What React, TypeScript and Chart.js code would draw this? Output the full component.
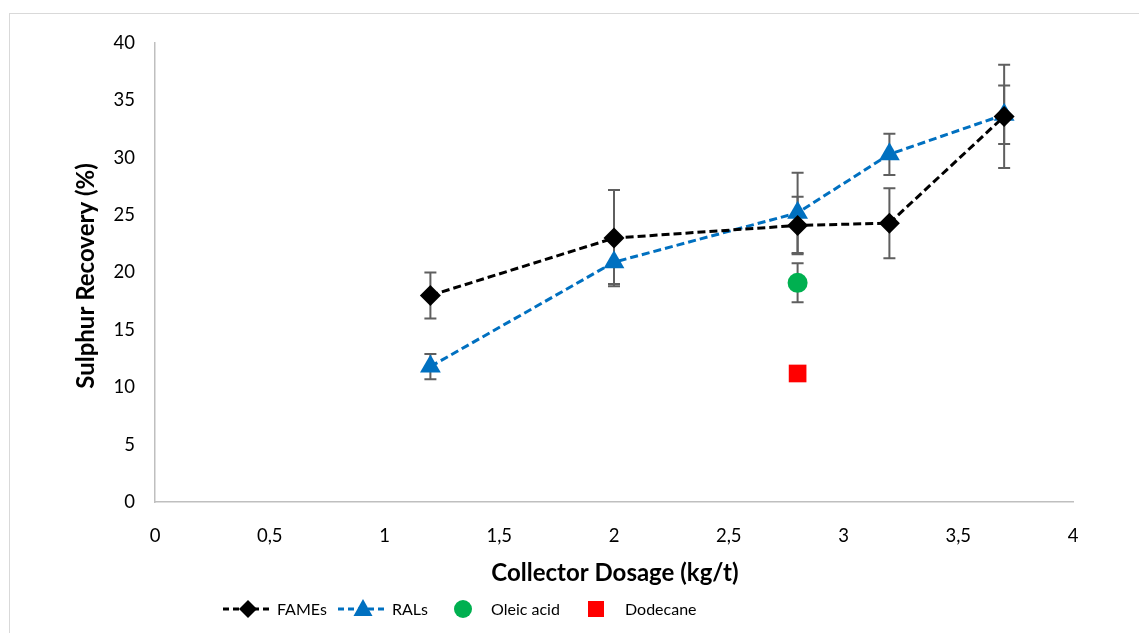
import React, { useEffect, useRef } from 'react';
import { Chart, registerables } from 'chart.js';

Chart.register(...registerables);

// ---- data ----
const dosage = [1.2, 2, 2.8, 3.2, 3.7];
const famesRecovery = [18.0, 23.0, 24.1, 24.3, 33.6];
const famesError = [2.0, 4.2, 2.5, 3.05, 4.5];
const ralsRecovery = [11.8, 20.9, 25.2, 30.3, 33.75];
const ralsError = [1.1, 1.9, 3.5, 1.8, 2.55];
const oleicDosage = [2.8];
const oleicRecovery = [19.1];
const oleicError = [1.7];
const dodecaneDosage = [2.8];
const dodecaneRecovery = [11.2];

const seriesNames = ['FAMEs', 'RALs', 'Oleic acid', 'Dodecane'];
const seriesColors = ['#000000', '#0070C0', '#00B050', '#FF0000'];
const errorSets = [famesError, ralsError, oleicError, null];

const xTitle = 'Collector Dosage (kg/t)';
const yTitle = 'Sulphur Recovery (%)';

const FONT = 'Lato, "Open Sans", sans-serif';

const toPts = (xs: number[], ys: number[]) => xs.map((x, i) => ({ x, y: ys[i] }));

const errorBarPlugin = {
  id: 'errorBars',
  beforeDatasetsDraw(chart: any) {
    const { ctx, scales } = chart;
    const xs = scales.x;
    const ys = scales.y;
    ctx.save();
    ctx.strokeStyle = '#5f5f5f';
    ctx.lineWidth = 2;
    chart.data.datasets.forEach((ds: any, di: number) => {
      const errs = errorSets[di];
      if (!errs) return;
      ds.data.forEach((p: any, i: number) => {
        const e = errs[i];
        if (!e) return;
        const px = xs.getPixelForValue(p.x);
        const top = ys.getPixelForValue(p.y + e);
        const bot = ys.getPixelForValue(p.y - e);
        ctx.beginPath();
        ctx.moveTo(px, top);
        ctx.lineTo(px, bot);
        ctx.moveTo(px - 6, top);
        ctx.lineTo(px + 6, top);
        ctx.moveTo(px - 6, bot);
        ctx.lineTo(px + 6, bot);
        ctx.stroke();
      });
    });
    ctx.restore();
  },
};

function drawMarker(ctx: CanvasRenderingContext2D, kind: string, x: number, y: number, color: string) {
  ctx.fillStyle = color;
  ctx.beginPath();
  if (kind === 'diamond') {
    ctx.moveTo(x, y - 9);
    ctx.lineTo(x + 9, y);
    ctx.lineTo(x, y + 9);
    ctx.lineTo(x - 9, y);
    ctx.closePath();
  } else if (kind === 'triangle') {
    ctx.moveTo(x, y - 10);
    ctx.lineTo(x + 9.5, y + 7);
    ctx.lineTo(x - 9.5, y + 7);
    ctx.closePath();
  } else if (kind === 'circle') {
    ctx.arc(x, y, 9, 0, Math.PI * 2);
  } else {
    ctx.rect(x - 8, y - 8, 16, 16);
  }
  ctx.fill();
}

const decorPlugin = {
  id: 'decor',
  afterDraw(chart: any) {
    const { ctx } = chart;
    ctx.save();
    // outer frame
    ctx.strokeStyle = '#d9d9d9';
    ctx.lineWidth = 1;
    ctx.strokeRect(1.5, 5.5, 1300, 1000);

    // axis titles
    ctx.fillStyle = '#000';
    ctx.font = `bold 24px ${FONT}`;
    ctx.textAlign = 'center';
    ctx.textBaseline = 'middle';
    ctx.fillText(xTitle, 607, 565);
    ctx.save();
    ctx.translate(78, 268);
    ctx.rotate(-Math.PI / 2);
    ctx.fillText(yTitle, 0, 0);
    ctx.restore();

    // legend
    const ly = 601;
    const items = [
      { line: true, kind: 'diamond', x0: 215, text: 269 },
      { line: true, kind: 'triangle', x0: 330, text: 384 },
      { line: false, kind: 'circle', x0: 430, text: 483 },
      { line: false, kind: 'square', x0: 563, text: 617 },
    ];
    ctx.font = `16px ${FONT}`;
    ctx.textAlign = 'left';
    items.forEach((it, i) => {
      const c = seriesColors[i];
      if (it.line) {
        ctx.strokeStyle = c;
        ctx.lineWidth = 3;
        ctx.setLineDash([6, 4]);
        ctx.beginPath();
        ctx.moveTo(it.x0, ly);
        ctx.lineTo(it.x0 + 49, ly);
        ctx.stroke();
        ctx.setLineDash([]);
      }
      drawMarker(ctx, it.kind, it.x0 + 25, ly, c);
      ctx.fillStyle = '#000';
      ctx.fillText(seriesNames[i], it.text, ly + 1);
    });
    ctx.restore();
  },
};

export default function App() {
  const ref = useRef<HTMLCanvasElement | null>(null);
  useEffect(() => {
    if (!ref.current) return;
    const chart = new Chart(ref.current, {
      type: 'scatter',
      data: {
        datasets: [
          {
            label: seriesNames[0],
            data: toPts(dosage, famesRecovery),
            showLine: true,
            borderColor: seriesColors[0],
            backgroundColor: seriesColors[0],
            borderWidth: 3,
            borderDash: [8, 4],
            pointStyle: 'rectRot',
            pointRadius: 10.5,
            pointBorderWidth: 0,
            pointBackgroundColor: seriesColors[0],
          },
          {
            label: seriesNames[1],
            data: toPts(dosage, ralsRecovery),
            showLine: true,
            borderColor: seriesColors[1],
            backgroundColor: seriesColors[1],
            borderWidth: 3,
            borderDash: [8, 4],
            pointStyle: 'triangle',
            pointRadius: 12,
            pointBorderWidth: 0,
            pointBackgroundColor: seriesColors[1],
          },
          {
            label: seriesNames[2],
            data: toPts(oleicDosage, oleicRecovery),
            showLine: false,
            borderColor: seriesColors[2],
            backgroundColor: seriesColors[2],
            pointStyle: 'circle',
            pointRadius: 10,
            pointBorderWidth: 0,
          },
          {
            label: seriesNames[3],
            data: toPts(dodecaneDosage, dodecaneRecovery),
            showLine: false,
            borderColor: seriesColors[3],
            backgroundColor: seriesColors[3],
            pointStyle: 'rect',
            pointRadius: 12.5,
            pointBorderWidth: 0,
          },
        ],
      },
      options: {
        animation: false,
        responsive: true,
        maintainAspectRatio: false,
        layout: { padding: { top: 35, right: 66, left: 0, bottom: 0 } },
        plugins: {
          legend: { display: false },
          tooltip: { enabled: false },
        },
        scales: {
          x: {
            type: 'linear',
            min: 0,
            max: 4,
            grid: { display: false, drawTicks: false },
            border: { display: true, color: '#bfbfbf', width: 1.5 },
            ticks: {
              stepSize: 0.5,
              padding: 23,
              color: '#000',
              font: { family: FONT, size: 18.5 },
              callback: (v: any) => String(v).replace('.', ','),
            },
            afterFit: (s: any) => {
              s.height = 131;
            },
          },
          y: {
            type: 'linear',
            min: 0,
            max: 40,
            grid: { display: false, drawTicks: false },
            border: { display: true, color: '#bfbfbf', width: 1.5 },
            ticks: {
              stepSize: 5,
              padding: 20,
              color: '#000',
              font: { family: FONT, size: 18.5 },
            },
            afterFit: (s: any) => {
              s.width = 147;
            },
          },
        },
      },
      plugins: [errorBarPlugin, decorPlugin],
    });
    return () => chart.destroy();
  }, []);
  return (
    <div style={{ width: 1131, height: 625, position: 'relative' }}>
      <canvas ref={ref} />
    </div>
  );
}
